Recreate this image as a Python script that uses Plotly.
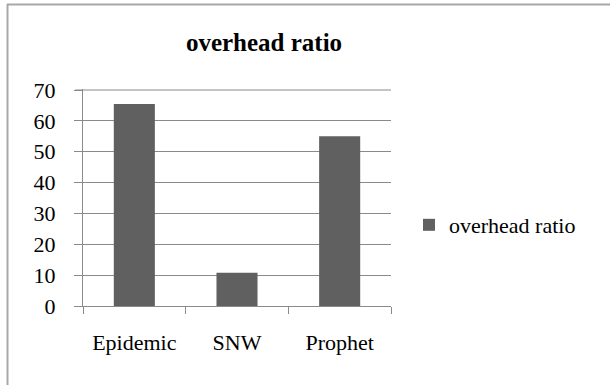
import plotly.graph_objects as go

categories = ["Epidemic", "SNW", "Prophet"]
overhead_ratio = [65.5, 10.8, 55]
y_ticks = [0, 10, 20, 30, 40, 50, 60, 70]
series_name = "overhead ratio"
title_text = "overhead ratio"

W, H = 610, 385
L, R, T, B = 83, 219, 89, 79
y_top = 70 + 70 / 216  # one pixel of headroom above the top tick

fig = go.Figure()
fig.add_trace(go.Bar(
    x=categories, y=overhead_ratio, name=series_name,
    marker=dict(color="#606060", line=dict(width=0)),
    width=0.4, showlegend=True,
))

grid = "#8a8a8a"
PH = H - T - B
PW = W - L - R
fig.update_layout(
    width=W, height=H,
    margin=dict(l=L, r=R, t=T, b=B, pad=0),
    paper_bgcolor="white", plot_bgcolor="white",
    font=dict(family="Liberation Serif", size=22, color="black"),
    title=dict(text="<b>" + title_text + "</b>", x=264 / W, xref="container", xanchor="center",
               y=1 - 42 / H, yref="container", yanchor="middle",
               font=dict(family="Liberation Serif", size=25, color="black")),
    showlegend=True,
    legend=dict(x=409 / W, xref="container", xanchor="left", y=1 - 225 / H, yref="container",
                yanchor="middle", bgcolor="rgba(0,0,0,0)", font=dict(size=22),
                itemwidth=30, tracegroupgap=0),
    xaxis=dict(type="category", showgrid=False, showline=True, linecolor=grid, linewidth=1,
               ticks="outside", ticklen=7, tickcolor=grid, tickson="boundaries",
               ticklabelstandoff=17, range=[-0.5, 2.5]),
    yaxis=dict(range=[0, y_top], tickvals=y_ticks, showgrid=True, gridcolor=grid, gridwidth=1,
               showline=True, linecolor=grid, linewidth=1, zeroline=False,
               ticks="outside", ticklen=8, tickcolor=grid, ticklabelstandoff=14),
    bargap=0.6,
    shapes=[
        dict(type="line", xref="paper", yref="y", layer="below",
             x0=-8 / PW, x1=1, y0=y_ticks[-1], y1=y_ticks[-1],
             line=dict(color=grid, width=1)),
        dict(type="line", xref="paper", yref="paper",
             x0=(7 - L) / PW, x1=(W + 5 - L) / PW,
             y0=(H - B - 4.5) / PH, y1=(H - B - 4.5) / PH,
             line=dict(color="#a8a8a8", width=2)),
        dict(type="line", xref="paper", yref="paper",
             x0=(7.5 - L) / PW, x1=(7.5 - L) / PW,
             y0=(H - B - 4) / PH, y1=(H - B - H - 5) / PH,
             line=dict(color="#a8a8a8", width=2)),
    ],
)

fig.write_html("out.html", config={"displayModeBar": False},
               post_script="document.body.style.margin='0';document.body.style.padding='0';")
